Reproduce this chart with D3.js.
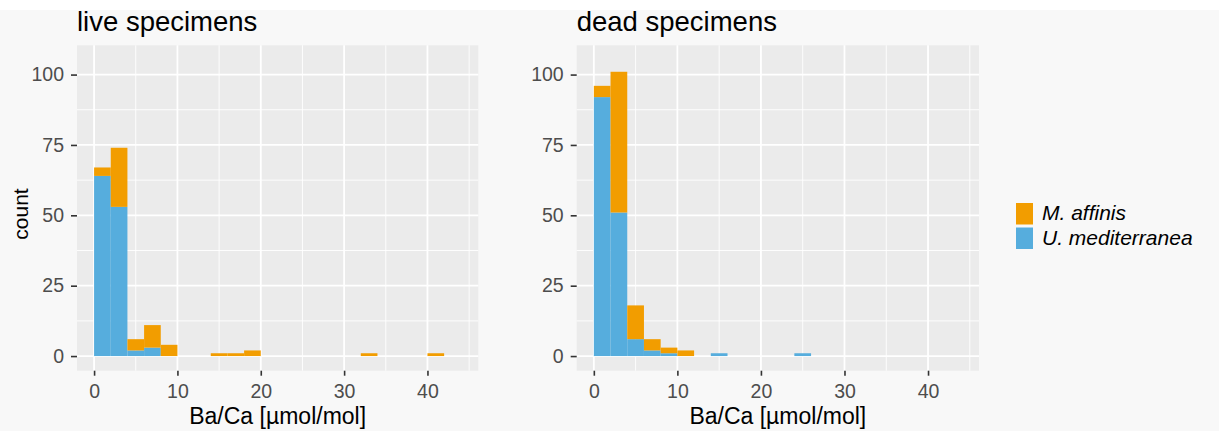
<!DOCTYPE html>
<html>
<head>
<meta charset="utf-8">
<script src="https://cdn.jsdelivr.net/npm/d3@7"></script>
<style>
  html, body { margin: 0; padding: 0; background: #ffffff; }
  svg { display: block; font-family: "Liberation Sans", Arial, sans-serif; }
</style>
</head>
<body>
<svg id="chart" width="1219" height="431"></svg>
<script>
// Histogram bins: left edges, width 2 µmol/mol
const binWidth = 2;
const binStarts = [0, 2, 4, 6, 8, 10, 12, 14, 16, 18, 20, 22, 24, 26, 28, 30, 32, 34, 36, 38, 40, 42];

// Counts per bin (same order as binStarts)
const liveAffinis = [3, 21, 4, 8, 4, 0, 0, 1, 1, 2, 0, 0, 0, 0, 0, 0, 1, 0, 0, 0, 1, 0];
const liveMediterranea = [64, 53, 2, 3, 0, 0, 0, 0, 0, 0, 0, 0, 0, 0, 0, 0, 0, 0, 0, 0, 0, 0];
const deadAffinis = [4, 50, 12, 4, 2, 2, 0, 0, 0, 0, 0, 0, 0, 0, 0, 0, 0, 0, 0, 0, 0, 0];
const deadMediterranea = [92, 51, 6, 2, 1, 0, 0, 1, 0, 0, 0, 0, 1, 0, 0, 0, 0, 0, 0, 0, 0, 0];

const panelTitles = ["live specimens", "dead specimens"];
const speciesNames = ["M. affinis", "U. mediterranea"];
const speciesColors = ["#F29D00", "#56ADDD"];
const xTicks = [0, 10, 20, 30, 40];
const xMinor = [5, 15, 25, 35, 45];
const yTicks = [0, 25, 50, 75, 100];
const yMinor = [12.5, 37.5, 62.5, 87.5];

const panels = [
  { title: panelTitles[0], top: liveAffinis, bottom: liveMediterranea, x0: 77, x1: 478.3 },
  { title: panelTitles[1], top: deadAffinis, bottom: deadMediterranea, x0: 576.7, x1: 979 }
];

const svg = d3.select("#chart");
svg.append("rect").attr("x", 0).attr("y", 10).attr("width", 1219).attr("height", 421)
  .attr("fill", "#f8f8f8");

const plotTop = 45.3, plotBottom = 370.7;
const y = d3.scaleLinear().domain([-5.2, 110.4]).range([plotBottom, plotTop]);

panels.forEach((p, pi) => {
  const x = d3.scaleLinear().domain([-2.05, 46.1]).range([p.x0, p.x1]);
  const g = svg.append("g");

  g.append("rect").attr("x", p.x0).attr("y", plotTop)
    .attr("width", p.x1 - p.x0).attr("height", plotBottom - plotTop)
    .attr("fill", "#ebebeb");

  // minor grid
  g.selectAll(".vmin").data(xMinor).join("line")
    .attr("x1", d => x(d)).attr("x2", d => x(d)).attr("y1", plotTop).attr("y2", plotBottom)
    .attr("stroke", "#fff").attr("stroke-width", 0.9);
  g.selectAll(".hmin").data(yMinor).join("line")
    .attr("y1", d => y(d)).attr("y2", d => y(d)).attr("x1", p.x0).attr("x2", p.x1)
    .attr("stroke", "#fff").attr("stroke-width", 0.9);
  // major grid
  g.selectAll(".vmaj").data(xTicks).join("line")
    .attr("x1", d => x(d)).attr("x2", d => x(d)).attr("y1", plotTop).attr("y2", plotBottom)
    .attr("stroke", "#fff").attr("stroke-width", 1.8);
  g.selectAll(".hmaj").data(yTicks).join("line")
    .attr("y1", d => y(d)).attr("y2", d => y(d)).attr("x1", p.x0).attr("x2", p.x1)
    .attr("stroke", "#fff").attr("stroke-width", 1.8);

  // stacked bars: U. mediterranea at the base, M. affinis on top
  const rows = binStarts.map((b, i) => ({ b, lower: p.bottom[i], upper: p.top[i] }));
  g.selectAll(".barLow").data(rows.filter(r => r.lower > 0)).join("rect")
    .attr("x", d => x(d.b)).attr("width", d => x(d.b + binWidth) - x(d.b))
    .attr("y", d => y(d.lower)).attr("height", d => y(0) - y(d.lower))
    .attr("fill", speciesColors[1]);
  g.selectAll(".barUp").data(rows.filter(r => r.upper > 0)).join("rect")
    .attr("x", d => x(d.b)).attr("width", d => x(d.b + binWidth) - x(d.b))
    .attr("y", d => y(d.lower + d.upper)).attr("height", d => y(d.lower) - y(d.lower + d.upper))
    .attr("fill", speciesColors[0]);

  // axes
  const xAxis = d3.axisBottom(x).tickValues(xTicks).tickSize(5).tickPadding(8);
  const gx = g.append("g").attr("transform", `translate(0,${plotBottom})`).call(xAxis);
  const yAxis = d3.axisLeft(y).tickValues(yTicks).tickSize(6).tickPadding(7);
  const gy = g.append("g").attr("transform", `translate(${p.x0},0)`).call(yAxis);
  [gx, gy].forEach(a => {
    a.select(".domain").remove();
    a.selectAll(".tick line").attr("stroke", "#333").attr("stroke-width", 1.6);
    a.selectAll(".tick text").attr("fill", "#4d4d4d").attr("font-size", 19.5)
      .attr("font-family", "Liberation Sans, Arial, sans-serif");
  });

  g.append("text").attr("x", p.x0).attr("y", 31).text(p.title)
    .attr("font-size", 27.5).attr("fill", "#000");
  g.append("text").attr("x", (p.x0 + p.x1) / 2).attr("y", 424)
    .attr("text-anchor", "middle").attr("font-size", 23).attr("fill", "#000")
    .text("Ba/Ca [µmol/mol]");
});

svg.append("text").attr("transform", `translate(28,214) rotate(-90)`)
  .attr("text-anchor", "middle").attr("font-size", 21).attr("fill", "#000").text("count");

// legend
const legRow = 24.5;
const leg = svg.append("g").attr("transform", "translate(1016,200)");
speciesNames.forEach((n, i) => {
  leg.append("rect").attr("x", 0).attr("y", i * legRow + 3).attr("width", 17).attr("height", legRow - 3)
    .attr("fill", speciesColors[i]);
  leg.append("text").attr("x", 26).attr("y", i * legRow + 20).attr("font-size", 21)
    .attr("font-style", "italic").attr("fill", "#000").text(n);
});
</script>
</body>
</html>
